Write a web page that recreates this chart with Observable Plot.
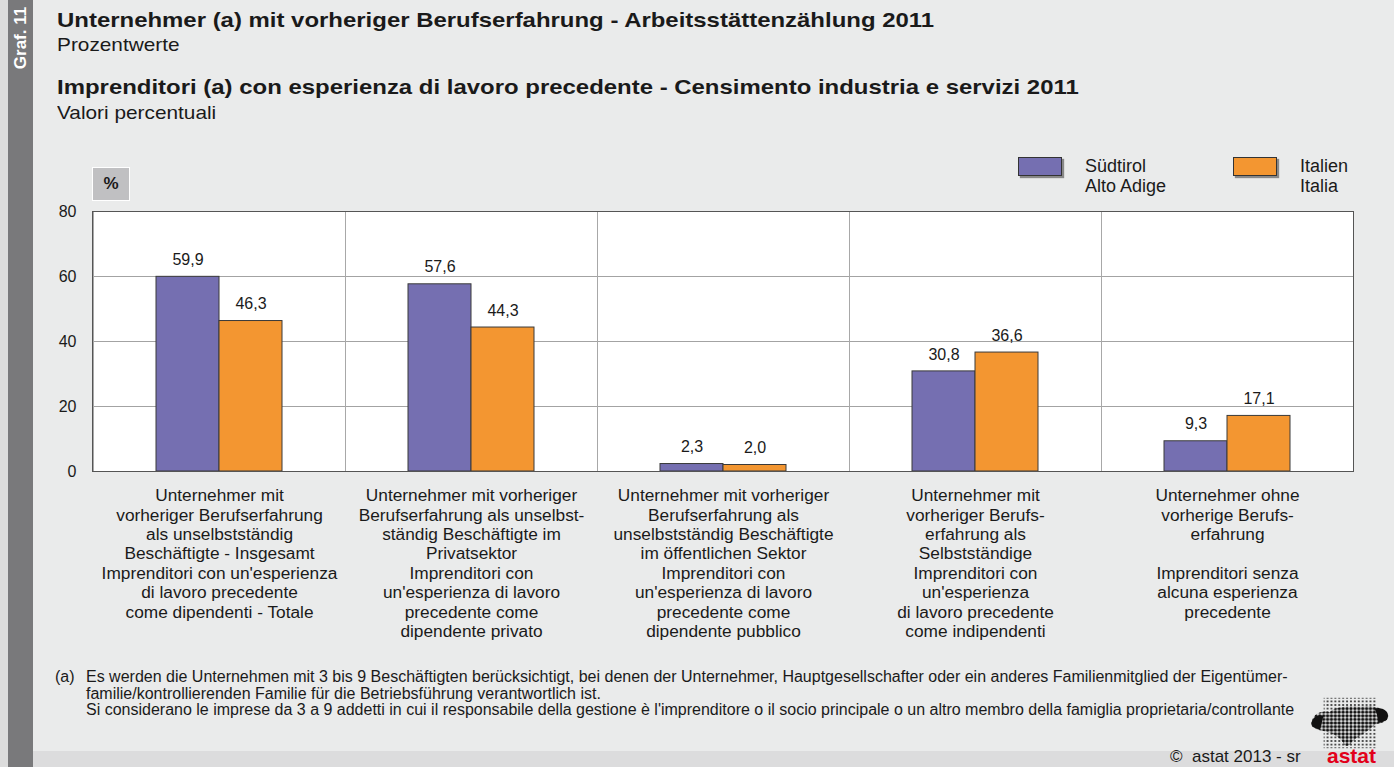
<!DOCTYPE html>
<html>
<head>
<meta charset="utf-8">
<script src="https://cdn.jsdelivr.net/npm/d3@7"></script>
<script src="https://cdn.jsdelivr.net/npm/@observablehq/plot@0.6"></script>
<style>
  html, body { margin: 0; padding: 0; }
  body { width: 1394px; height: 767px; overflow: hidden; background: #eaebeb; font-family: "Liberation Sans", Arial, Helvetica, sans-serif; color: #1a1a1a; }
  #page { position: relative; width: 1394px; height: 767px; overflow: hidden; }
  .abs { position: absolute; white-space: nowrap; }
  #edge { left: 0; top: 0; width: 8px; height: 767px; background: #dcdcdc; }
  #strip { left: 8px; top: 0; width: 25px; height: 767px; background: #79797b; }
  #graf { left: 8px; top: 0; width: 25px; height: 80px; }
  #graf span { position: absolute; left: 50%; top: 38px; transform: translate(-50%, -50%) rotate(-90deg); color: #fff; font-weight: bold; font-size: 17px; white-space: nowrap; }
  #band { left: 33px; top: 751px; width: 1361px; height: 16px; background: #dcdcdd; }
  .t1 { font-weight: bold; font-size: 21px; line-height: 24px; left: 57px; transform: scaleX(1.14); transform-origin: 0 0; }
  .t2 { font-size: 19px; line-height: 22px; left: 57px; transform: scaleX(1.095); transform-origin: 0 0; }
  #plotwrap { left: 0; top: 150px; }
  #pct { left: 92px; top: 167px; width: 38px; height: 34px; background: #c0c0c2; border: 1px solid #fff; box-sizing: border-box; text-align: center; font-weight: bold; font-size: 17px; line-height: 32px; }
  #border { left: 92px; top: 211px; width: 1262px; height: 261px; border: 1px solid #555; box-sizing: border-box; pointer-events: none; }
  .sw { width: 44px; height: 19px; border: 1px solid #333; box-sizing: border-box; box-shadow: 2px 2px 1px #888; }
  .lg { font-size: 18px; line-height: 20px; }
  .fn { font-size: 16px; line-height: 16.5px; }
</style>
</head>
<body>
<div id="page">
  <div class="abs" id="edge"></div>
  <div class="abs" id="strip"></div>
  <div class="abs" id="graf"><span>Graf. 11</span></div>
  <div class="abs" id="band"></div>

  <div class="abs t1" style="top:8px">Unternehmer (a) mit vorheriger Berufserfahrung - Arbeitsstättenzählung 2011</div>
  <div class="abs t2" style="top:34px">Prozentwerte</div>
  <div class="abs t1" style="top:75px">Imprenditori (a) con esperienza di lavoro precedente - Censimento industria e servizi 2011</div>
  <div class="abs t2" style="top:102px">Valori percentuali</div>

  <div class="abs" id="pct">%</div>

  <div class="abs" id="plotwrap"></div>
  <div class="abs" id="border"></div>

  <div class="abs fn" style="left:55px; top:669px">(a)</div>
  <div class="abs fn" style="left:86px; top:669px">Es werden die Unternehmen mit 3 bis 9 Beschäftigten berücksichtigt, bei denen der Unternehmer, Hauptgesellschafter oder ein anderes Familienmitglied der Eigentümer-<br>familie/kontrollierenden Familie für die Betriebsführung verantwortlich ist.<br>Si considerano le imprese da 3 a 9 addetti in cui il responsabile della gestione è l'imprenditore o il socio principale o un altro membro della famiglia proprietaria/controllante</div>

  <svg class="abs" style="left:1310px; top:696px" width="80" height="54" viewBox="0 0 82 60" preserveAspectRatio="none">
    <defs>
      <pattern id="dots" width="4" height="4" patternUnits="userSpaceOnUse">
        <circle cx="2" cy="2" r="1.1" fill="#222"/>
      </pattern>
      <pattern id="dots2" width="4" height="4" patternUnits="userSpaceOnUse">
        <circle cx="2" cy="2" r="1.7" fill="#111"/>
      </pattern>
    </defs>
    <rect x="14" y="2" width="54" height="56" fill="url(#dots)"/>
    <path d="M2,28 C4,18 14,16 20,18 C28,10 44,12 52,12 C62,10 74,12 80,20 C82,28 74,30 66,32 C60,40 50,44 44,50 C40,56 36,58 34,52 C30,44 20,40 10,38 C4,36 0,34 2,28 Z" fill="url(#dots2)"/>
    <path d="M2,28 C4,22 10,20 14,22 C12,28 12,34 10,37 C4,36 0,33 2,28 Z" fill="#111"/>
    <path d="M66,14 C74,12 80,16 80,22 C80,28 74,29 70,30 C70,24 68,18 66,14 Z" fill="#111"/>
  </svg>
  <div class="abs" style="left:1170px; top:748px; font-size:17px; line-height:18px;">©&nbsp; astat 2013 - sr</div>
  <div class="abs" style="left:1327px; top:746px; font-size:21px; line-height:20px; font-weight:bold; color:#e2001a;">astat</div>
</div>

<script>
// ---- data ----
const categories = ["c1", "c2", "c3", "c4", "c5"];
const categoryLabels = [
  ["Unternehmer mit", "vorheriger Berufserfahrung", "als unselbstständig", "Beschäftigte - Insgesamt", "Imprenditori con un'esperienza", "di lavoro precedente", "come dipendenti - Totale"],
  ["Unternehmer mit vorheriger", "Berufserfahrung als unselbst-", "ständig Beschäftigte im", "Privatsektor", "Imprenditori con", "un'esperienza di lavoro", "precedente come", "dipendente privato"],
  ["Unternehmer mit vorheriger", "Berufserfahrung als", "unselbstständig Beschäftigte", "im öffentlichen Sektor", "Imprenditori con", "un'esperienza di lavoro", "precedente come", "dipendente pubblico"],
  ["Unternehmer mit", "vorheriger Berufs-", "erfahrung als", "Selbstständige", "Imprenditori con", "un'esperienza", "di lavoro precedente", "come indipendenti"],
  ["Unternehmer ohne", "vorherige Berufs-", "erfahrung", "", "Imprenditori senza", "alcuna esperienza", "precedente"]
];
const seriesKeys = ["Südtirol", "Italien"];
const seriesLabels = [["Südtirol", "Alto Adige"], ["Italien", "Italia"]];
const seriesColors = ["#756fb1", "#f39631"];
const valuesSuedtirol = [59.9, 57.6, 2.3, 30.8, 9.3];
const valuesItalien = [46.3, 44.3, 2.0, 36.6, 17.1];
const yTicks = [0, 20, 40, 60, 80];

// ---- table ----
const data = [];
categories.forEach((c, i) => {
  data.push({cat: c, series: seriesKeys[0], value: valuesSuedtirol[i]});
  data.push({cat: c, series: seriesKeys[1], value: valuesItalien[i]});
});
const labelOf = new Map(categories.map((c, i) => [c, categoryLabels[i].join("\n")]));
const fmt = v => v.toFixed(1).replace(".", ",");

const chart = Plot.plot({
  width: 1394,
  height: 500,
  marginTop: 61,
  marginBottom: 179,
  marginLeft: 92,
  marginRight: 41,
  style: {fontFamily: "'Liberation Sans', Arial, Helvetica, sans-serif", fontSize: "16px", color: "#1a1a1a", background: "transparent", overflow: "visible"},
  fx: {domain: categories, padding: 0, label: null},
  x: {domain: seriesKeys, paddingInner: 0, paddingOuter: 0.97, axis: null},
  y: {domain: [0, 80], label: null},
  color: {domain: seriesKeys, range: seriesColors},
  marks: [
    Plot.frame({fill: "white", stroke: "none"}),
    Plot.gridY([20, 40, 60], {stroke: "#a3a3a3", strokeOpacity: 1}),
    Plot.barY(data, {fx: "cat", x: "series", y: "value", fill: "series", stroke: "#3a3a3a", strokeWidth: 1, inset: 0}),
    Plot.text(data, {fx: "cat", x: "series", y: "value", text: d => fmt(d.value), dy: -17, fontSize: 16, fill: "#1a1a1a"}),
    Plot.frame({stroke: "#a8a8a8"}),
    Plot.axisY({ticks: yTicks, tickSize: 0, tickPadding: 17, fontSize: 16, label: null}),
    Plot.axisFx({anchor: "bottom", tickFormat: k => labelOf.get(k), tickSize: 0, tickPadding: 16, fontSize: 17.3, lineHeight: 1.12, label: null})
  ]
});
document.getElementById("plotwrap").appendChild(chart);

// ---- legend ----
const page = document.getElementById("page");
const legendPos = [1018, 1233];
seriesKeys.forEach((k, i) => {
  const sw = document.createElement("div");
  sw.className = "abs sw";
  sw.style.left = legendPos[i] + "px";
  sw.style.top = "157px";
  sw.style.background = seriesColors[i];
  page.appendChild(sw);
  const tx = document.createElement("div");
  tx.className = "abs lg";
  tx.style.left = (legendPos[i] + 67) + "px";
  tx.style.top = "156px";
  tx.innerHTML = seriesLabels[i].join("<br>");
  page.appendChild(tx);
});
</script>
</body>
</html>
